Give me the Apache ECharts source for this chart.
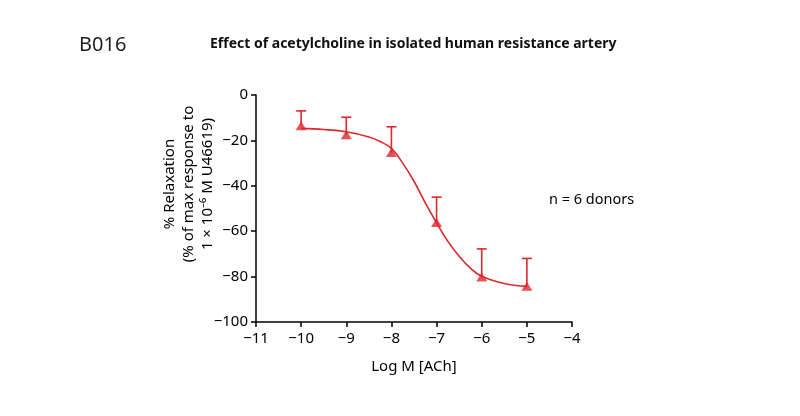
<!DOCTYPE html>
<html>
<head>
<meta charset="utf-8">
<script src="https://cdn.jsdelivr.net/npm/echarts@6/dist/echarts.min.js"></script>
<style>
  html, body { margin: 0; padding: 0; background: #fff; }
  #chart { width: 800px; height: 416px; }
</style>
</head>
<body>
<div id="chart"></div>
<script>
// measured points (log M ACh, % relaxation), plus upper error bar end
var doses = [-10, -9, -8, -7, -6, -5];
var means = [-13.5, -17.5, -25.3, -56.2, -80.2, -84.2];
var errTop = [-7, -9.8, -14, -45, -67.8, -72];

// fitted curve
var curveX = [-10, -9.5, -9, -8.5, -8.25, -8, -7.75, -7.5, -7.25, -7, -6.75, -6.5, -6.25, -6, -5.5, -5];
var curveY = [-14.7, -15.2, -16.2, -18.5, -20.5, -23.5, -30, -38, -47.5, -56.3, -64.5, -71, -76.3, -79.8, -83, -84.3];

var xTicks = [-11, -10, -9, -8, -7, -6, -5, -4];
var yTicks = [0, -20, -40, -60, -80, -100];

var red = '#e0262a';
var font = '"Noto Sans", sans-serif';

var myChart = echarts.init(document.getElementById('chart'));

function minus(v) {
  return String(v).replace('-', '\u2212');
}

var options = {
  animation: false,
  grid: { left: 256, right: 228, top: 95, bottom: 94 },
  xAxis: {
    type: 'value',
    min: xTicks[0],
    max: xTicks[xTicks.length - 1],
    interval: 1,
    axisLine: { onZero: false, lineStyle: { color: '#000', width: 1.5 } },
    axisTick: { show: true, length: 5, lineStyle: { color: '#000', width: 1.5 } },
    axisLabel: { color: '#000', fontSize: 15, fontFamily: font, margin: 9, formatter: minus },
    splitLine: { show: false },
    name: 'Log M [ACh]',
    nameLocation: 'middle',
    nameGap: 37,
    nameTextStyle: { color: '#000', fontSize: 15, fontFamily: font }
  },
  yAxis: {
    type: 'value',
    min: yTicks[yTicks.length - 1],
    max: yTicks[0],
    interval: 20,
    axisLine: { show: true, lineStyle: { color: '#000', width: 1.5 } },
    axisTick: { show: true, length: 5, lineStyle: { color: '#000', width: 1.5 } },
    axisLabel: { color: '#000', fontSize: 15, fontFamily: font, margin: 8, formatter: minus },
    splitLine: { show: false }
  },
  graphic: [
    { type: 'text', left: 79, top: 35, style: { text: 'B016', fontSize: 20, fontFamily: font, fill: '#222' } },
    { type: 'text', left: 210, top: 37, style: { text: 'Effect of acetylcholine in isolated human resistance artery', fontSize: 14, fontWeight: 'bold', fontFamily: font, fill: '#111' } },
    { type: 'text', left: 549, top: 192, style: { text: 'n = 6 donors', fontSize: 14.5, fontFamily: font, fill: '#000' } },
    {
      type: 'text', x: 189, y: 184, rotation: Math.PI / 2,
      style: {
        text: '% Relaxation\n(% of max response to\n1 \u00d7 10\u207b\u2076 M U46619)',
        fontSize: 15, fontFamily: font, fill: '#000', align: 'center', verticalAlign: 'middle', lineHeight: 19
      }
    }
  ],
  series: [
    {
      name: 'fit',
      type: 'line',
      smooth: 0.4,
      showSymbol: false,
      lineStyle: { color: red, width: 1.6 },
      data: curveX.map(function (x, i) { return [x, curveY[i]]; }),
      z: 2
    },
    {
      name: 'sem',
      type: 'custom',
      renderItem: function (params, api) {
        var p0 = api.coord([api.value(0), api.value(1)]);
        var p1 = api.coord([api.value(0), api.value(2)]);
        var w = 5;
        return {
          type: 'group',
          children: [
            { type: 'line', shape: { x1: p0[0], y1: p0[1], x2: p1[0], y2: p1[1] }, style: { stroke: red, lineWidth: 1.6 } },
            { type: 'line', shape: { x1: p1[0] - w, y1: p1[1], x2: p1[0] + w, y2: p1[1] }, style: { stroke: red, lineWidth: 1.6 } }
          ]
        };
      },
      data: doses.map(function (x, i) { return [x, means[i], errTop[i]]; }),
      z: 3
    },
    {
      name: 'mean',
      type: 'scatter',
      symbol: 'triangle',
      symbolSize: [11, 9],
      itemStyle: { color: red },
      data: doses.map(function (x, i) { return [x, means[i]]; }),
      z: 4
    }
  ]
};

myChart.setOption(options);
window.addEventListener('resize', function () {
  myChart.resize();
});
</script>
</body>
</html>
